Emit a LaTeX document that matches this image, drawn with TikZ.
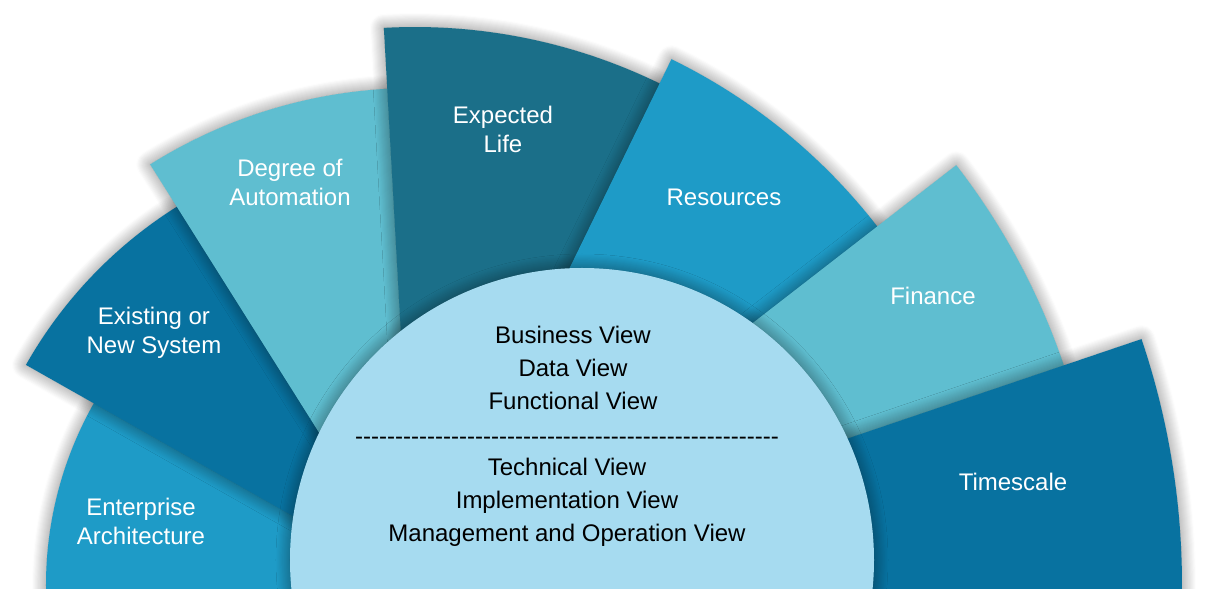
\documentclass[tikz,border=0pt]{standalone}
\usepackage{fontspec}
\setmainfont{Liberation Sans}
\usetikzlibrary{shadows.blur}

\definecolor{midblue}{HTML}{1E9BC7}
\definecolor{deepblue}{HTML}{0872A0}
\definecolor{paleteal}{HTML}{5FBED0}
\definecolor{darkteal}{HTML}{1B6F89}
\definecolor{hubblue}{HTML}{A6DBF0}

\newcommand{\dashrow}{\foreach \k in {1,...,53}{-\kern0pt}}

\begin{document}
\begin{tikzpicture}[
    x=0.5pt,y=0.5pt,
    sector/.style={blur shadow={shadow xshift=0pt,shadow yshift=0pt,
      shadow blur radius=7pt,shadow blur steps=14,shadow opacity=50}},
    lbl/.style={text=white,align=center,font=\fontsize{12}{14.5}\selectfont},
    views/.style={text=black,align=center,font=\fontsize{12}{16.5}\selectfont}
  ]
    \useasboundingbox (-415,-4) rectangle (795,585);
    \clip (-415,-4) rectangle (795,585);
    % fan blades, left to right, each one lies over the one before
    \fill[sector,midblue] (0,0) -- (185:369) arc (185:140:369) -- cycle;
    \fill[sector,deepblue] (0,0) -- (150.5:447) arc (150.5:115:447) -- cycle;
    \fill[sector,paleteal] (0,0) -- (122.2:497) arc (122.2:88:497) -- cycle;
    \fill[sector,darkteal] (0,0) -- (93.2:558) arc (93.2:58:558) -- cycle;
    \fill[sector,midblue] (0,0) -- (64:585) arc (64:32:585) -- cycle;
    \fill[sector,paleteal] (0,0) -- (37.8:685) arc (37.8:12:685) -- cycle;
    \fill[sector,deepblue] (0,0) -- (18.7:767) arc (18.7:-10:767) -- cycle;
    % hub
    \fill[sector,hubblue] (167,25) circle (292);

    \node[lbl] (ea) at (-274,64) {Enterprise\\Architecture};
    \node[lbl] (ens) at (-261,252) {Existing or\\New System};
    \node[lbl] (doa) at (-125,403) {Degree of\\Automation};
    \node[lbl] (life) at (88,456) {Expected\\Life};
    \node[lbl] (res) at (309,388) {Resources};
    \node[lbl] (fin) at (518,289) {Finance};
    \node[lbl] (time) at (598,103) {Timescale};
    \node[views] (bizviews) at (158,217) {Business View\\Data View\\Functional View};
    \node[views] (techviews) at (152,93) {\dashrow\\[-1pt]Technical View\\
      Implementation View\\Management and Operation View};
  \end{tikzpicture}
\end{document}
